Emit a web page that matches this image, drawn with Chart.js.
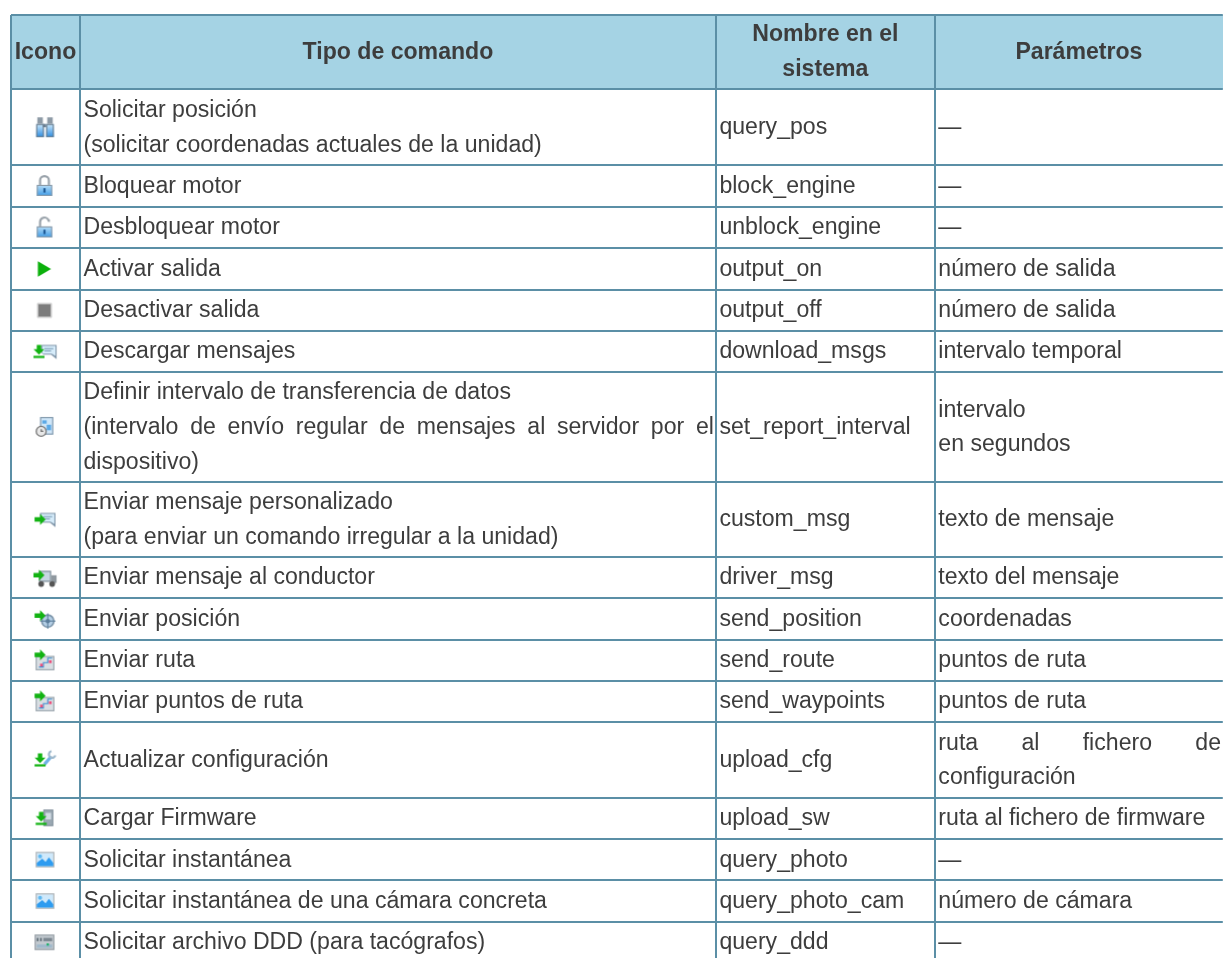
<!DOCTYPE html>
<html lang="es">
<head>
<meta charset="utf-8">
<title>Comandos</title>
<script src="https://cdn.jsdelivr.net/npm/chart.js@4"></script>
<style>html,body{margin:0;padding:0;background:#fff}canvas{display:block;filter:blur(.35px)}</style>
</head>
<body>
<canvas id="c" width="1223" height="958"></canvas>
<script>
const headers = ["Icono", "Tipo de comando", "Nombre en el\nsistema", "Parámetros"];
const commandTypes = [
  "Solicitar posición\n(solicitar coordenadas actuales de la unidad)",
  "Bloquear motor",
  "Desbloquear motor",
  "Activar salida",
  "Desactivar salida",
  "Descargar mensajes",
  "Definir intervalo de transferencia de datos\n(intervalo de envío regular de mensajes al servidor por el\ndispositivo)",
  "Enviar mensaje personalizado\n(para enviar un comando irregular a la unidad)",
  "Enviar mensaje al conductor",
  "Enviar posición",
  "Enviar ruta",
  "Enviar puntos de ruta",
  "Actualizar configuración",
  "Cargar Firmware",
  "Solicitar instantánea",
  "Solicitar instantánea de una cámara concreta",
  "Solicitar archivo DDD (para tacógrafos)"
];
const systemNames = ["query_pos","block_engine","unblock_engine","output_on","output_off","download_msgs","set_report_interval","custom_msg","driver_msg","send_position","send_route","send_waypoints","upload_cfg","upload_sw","query_photo","query_photo_cam","query_ddd"];
const parameters = ["—","—","—","número de salida","número de salida","intervalo temporal","intervalo\nen segundos","texto de mensaje","texto del mensaje","coordenadas","puntos de ruta","puntos de ruta","ruta al fichero de\nconfiguración","ruta al fichero de firmware","—","número de cámara","—"];
const justifiedLines = ["(intervalo de envío regular de mensajes al servidor por el","ruta al fichero de"];
const iconNames = ["binoculars","lock","unlock","play","stop","downloadMsg","clockDoc","sendMsg","truck","target","route","route","wrench","firmware","photo","photo","ddd"];
const columnEdges = [0, 69, 705, 924];
const rowEdges = [0, 74.5, 150, 192, 233, 275, 316, 357, 467, 542, 583, 625, 666, 707, 783, 824, 865.5, 907, 948];

const LINE = "#5b8fa6", HEAD = "#a5d3e4", TEXT = "#3d3d3d";
const FONT_SIZE = 23.1, LINE_H = 34.6;

function icon(draw) {
  const s = 30, c = document.createElement("canvas");
  c.width = c.height = s;
  const g = c.getContext("2d");
  g.translate(s / 2 - 1, s / 2);
  g.scale(1.1, 1.1);
  draw(g);
  return c;
}
function rr(g, x, y, w, h, f, st) { g.fillStyle = f; g.fillRect(x, y, w, h); if (st) { g.strokeStyle = st; g.lineWidth = 1; g.strokeRect(x + .5, y + .5, w - 1, h - 1); } }
function grad(g, x0, y0, x1, y1, a, b) { const l = g.createLinearGradient(x0, y0, x1, y1); l.addColorStop(0, a); l.addColorStop(1, b); return l; }
function poly(g, pts, f) { g.fillStyle = f; g.beginPath(); pts.forEach((p, i) => i ? g.lineTo(p[0], p[1]) : g.moveTo(p[0], p[1])); g.closePath(); g.fill(); }
const GREEN = "#12b312";
function downArrow(g, x, y) {
  poly(g, [[x-2,y-5],[x+2,y-5],[x+2,y-1],[x+5,y-1],[x,y+4],[x-5,y-1],[x-2,y-1]], GREEN);
  g.fillStyle = GREEN; g.fillRect(x-5, y+5, 10, 2);
}
function rightArrow(g, x, y) {
  poly(g, [[x-6,y-2],[x-1,y-2],[x-1,y-5],[x+4,y],[x-1,y+5],[x-1,y+2],[x-6,y+2]], GREEN);
}
function bubble(g, x, y) {
  poly(g, [[x-6,y-5],[x+8,y-5],[x+8,y+2],[x+8,y+8],[x+3,y+4],[x-4,y+4],[x-6,y+2]], "#7f95a8");
  poly(g, [[x-5,y-4],[x+7,y-4],[x+7,y+5],[x+3.5,y+3],[x-5,y+3]], "#d6ecfa");
  g.fillStyle = "#7fa0b8"; g.fillRect(x-3, y-2, 8, 1); g.fillRect(x-3, y, 6, 1);
}
const iconPainters = {
  binoculars(g) {
    [-4.5, 4.5].forEach(x => {
      rr(g, x-3, -3, 7, 12, grad(g,0,-3,0,9,"#cfeafc","#2a8be0"), "#6a7f92");
      rr(g, x-2, -9, 5, 6, "#8d9aa6");
    });
    rr(g, -1.5, -3, 3, 3, "#6a7f92");
  },
  lock(g) {
    g.strokeStyle = "#9aa3ab"; g.lineWidth = 2; g.beginPath(); g.arc(0,-5,4,Math.PI,0); g.lineTo(4,0); g.moveTo(-4,-5); g.lineTo(-4,0); g.stroke();
    rr(g, -7, -1, 14, 10, grad(g,0,-1,0,9,"#b9def8","#3d9be6"), "#8c9ba8");
    rr(g, -1, 2, 2, 4, "#1d5a96");
  },
  unlock(g) {
    g.strokeStyle = "#9aa3ab"; g.lineWidth = 2; g.beginPath(); g.moveTo(5,-6); g.arc(0,-5,4,-0.3,Math.PI,true); g.lineTo(-4,0); g.stroke();
    rr(g, -7, -1, 14, 10, grad(g,0,-1,0,9,"#b9def8","#3d9be6"), "#8c9ba8");
    rr(g, -1, 2, 2, 4, "#1d5a96");
  },
  play(g) { poly(g, [[-6,-7],[6,0],[-6,7]], "#0cb00c"); },
  stop(g) { rr(g, -6.5, -6.5, 13, 13, "#7c7c7c", "#c8c8c8"); },
  downloadMsg(g) { bubble(g, 3, -1); downArrow(g, -5, -1); },
  clockDoc(g) {
    rr(g, -4, -9, 12, 16, "#cfe6f8", "#7f95a8");
    rr(g, -2, -6, 4, 3, "#5aa8e6"); rr(g, 2, -2, 4, 5, "#5aa8e6");
    g.fillStyle = "#e8e8e8"; g.strokeStyle = "#777"; g.lineWidth = 1.2;
    g.beginPath(); g.arc(-3, 4, 4.5, 0, 7); g.fill(); g.stroke();
    g.beginPath(); g.moveTo(-3,2); g.lineTo(-3,4); g.lineTo(-1,4); g.stroke();
  },
  sendMsg(g) { bubble(g, 2, -1); rightArrow(g, -3, 0); },
  truck(g) {
    rr(g, -5, -6, 11, 10, "#c6d6e2", "#7f8c96");
    rr(g, 6, -2, 5, 7, "#8f989f");
    g.fillStyle = "#555"; [-3, 7].forEach(x => { g.beginPath(); g.arc(x, 6, 2.6, 0, 7); g.fill(); });
    rightArrow(g, -4, -2);
  },
  target(g) {
    g.strokeStyle = "#7d96ab"; g.lineWidth = 1.5; g.fillStyle = "#b4cfe6";
    g.beginPath(); g.arc(3, 2, 5.5, 0, 7); g.fill(); g.stroke();
    g.fillStyle = "#5c7f9c"; g.beginPath(); g.arc(3, 2, 2, 0, 7); g.fill();
    g.fillRect(2.5,-5,1,14); g.fillRect(-4,1.5,14,1);
    rightArrow(g, -3, -3);
  },
  route(g) {
    rr(g, -8, -4, 17, 13, "#d9dfe4", "#9aa4ac");
    g.strokeStyle = "#3f8fd0"; g.lineWidth = 1; g.beginPath(); g.moveTo(-5,6); g.lineTo(-1,6); g.lineTo(-1,2); g.lineTo(3,2); g.lineTo(3,-2); g.lineTo(7,-2); g.stroke();
    g.fillStyle = "#ee4d7a"; g.fillRect(-4,3,2.5,2.5); g.fillRect(4,0,2.5,2.5);
    rightArrow(g, -3, -5);
  },
  wrench(g) {
    g.strokeStyle = "#6fb0e6"; g.lineWidth = 3; g.beginPath(); g.moveTo(0,4); g.lineTo(6,-3); g.stroke();
    g.strokeStyle = "#9db8cc"; g.lineWidth = 2; g.beginPath(); g.arc(7,-5,3,0.3,4.5); g.stroke();
    downArrow(g, -4, -1);
  },
  firmware(g) {
    rr(g, -1, -8, 9, 15, "#9aa8b3", "#8a97a1");
    rr(g, 1, -5, 5, 6, "#d3dde5");
    downArrow(g, -3, -1);
  },
  photo(g) {
    rr(g, -8, -7, 17, 14, "#cfe9fb", "#b3b3b3");
    poly(g, [[-7,6],[-7,3],[-2,-1],[1,2],[4,-2],[8,3],[8,6]], "#2e9cf0");
    g.fillStyle = "#5db8f2"; g.beginPath(); g.arc(-4,-3,1.8,0,7); g.fill();
  },
  ddd(g) {
    rr(g, -9, -7, 18, 14, "#c2c9cf", "#9aa2a8");
    rr(g, -1, -4, 8, 3, "#7c8790");
    rr(g, -7, 2, 14, 3, "#9fb9cc");
    g.fillStyle = "#5b6972"; g.fillRect(-7,-4,1.5,3); g.fillRect(-4,-4,1.5,3);
    g.fillStyle = "#0fb060"; g.fillRect(2,1,2,2);
  }
};
const iconImages = iconNames.map(n => icon(iconPainters[n]));
const iconColumn = (columnEdges[0] + columnEdges[1]) / 2;
const iconPoints = iconNames.map((_, i) => ({ x: iconColumn, y: (rowEdges[i + 1] + rowEdges[i + 2]) / 2 }));

const tablePlugin = {
  id: "table",
  beforeDraw(chart) {
    const { ctx, scales: { x, y } } = chart;
    ctx.save();
    ctx.fillStyle = "#fff";
    ctx.fillRect(0, 0, chart.width, chart.height);
    ctx.fillStyle = HEAD;
    const y0 = y.getPixelForValue(rowEdges[0]), y1 = y.getPixelForValue(rowEdges[1]);
    ctx.fillRect(x.left, y0, chart.width - x.left, y1 - y0);
    ctx.restore();
  },
  afterDatasetsDraw(chart) {
    const { ctx, scales: { x, y } } = chart;
    const colLeft = c => x.getPixelForValue(columnEdges[c]);
    const colRight = c => c + 1 < columnEdges.length ? x.getPixelForValue(columnEdges[c + 1]) : chart.width;
    const lines = (text, c, top, bottom, opts) => {
      const parts = text.split("\n");
      const cy = (top + bottom) / 2 - (parts.length - 1) * LINE_H / 2 + opts.dy;
      parts.forEach((line, k) => {
        const by = cy + k * LINE_H;
        const L = colLeft(c) + 3.5, R = colRight(c) - 2;
        if (opts.center) {
          ctx.textAlign = "center";
          ctx.fillText(line, (colLeft(c) + colRight(c)) / 2, by);
        } else if (justifiedLines.includes(line)) {
          ctx.textAlign = "left";
          const words = line.split(" ");
          const used = words.reduce((s, w) => s + ctx.measureText(w).width, 0);
          const gap = (R - L - used) / (words.length - 1);
          let px = L;
          words.forEach(w => { ctx.fillText(w, px, by); px += ctx.measureText(w).width + gap; });
        } else {
          ctx.textAlign = "left";
          ctx.fillText(line, L, by);
        }
      });
    };
    ctx.save();
    ctx.fillStyle = TEXT;
    ctx.textBaseline = "alphabetic";
    ctx.font = `bold ${FONT_SIZE}px "Liberation Sans", Arial, sans-serif`;
    const hTop = y.getPixelForValue(rowEdges[0]), hBot = y.getPixelForValue(rowEdges[1]);
    headers.forEach((h, c) => lines(h, c, hTop, hBot, { center: true, dy: 6.5 }));
    ctx.font = `${FONT_SIZE}px "Liberation Sans", Arial, sans-serif`;
    commandTypes.forEach((_, i) => {
      const top = y.getPixelForValue(rowEdges[i + 1]), bot = y.getPixelForValue(rowEdges[i + 2]);
      lines(commandTypes[i], 1, top, bot, { dy: 7 });
      lines(systemNames[i], 2, top, bot, { dy: 7 });
      lines(parameters[i], 3, top, bot, { dy: 7 });
    });
    ctx.restore();
  }
};

new Chart(document.getElementById("c"), {
  type: "scatter",
  data: { datasets: [{
    data: iconPoints,
    pointStyle: iconImages,
    pointRadius: 0.2,
    pointHoverRadius: 0.2,
    pointBorderWidth: 0,
    pointHoverBorderWidth: 0,
    borderWidth: 0,
    clip: false
  }] },
  options: {
    responsive: false,
    animation: false,
    events: [],
    layout: { padding: { left: 11, top: 15, right: 0, bottom: 0 } },
    plugins: { legend: { display: false }, tooltip: { enabled: false }, title: { display: false } },
    scales: {
      x: {
        type: "linear", min: 0, max: 1212,
        afterBuildTicks: s => { s.ticks = columnEdges.map(value => ({ value })); },
        grid: { color: LINE, lineWidth: 2, drawTicks: false, tickLength: 0 },
        border: { display: false },
        ticks: { display: false, autoSkip: false }
      },
      y: {
        type: "linear", min: 0, max: 943, reverse: true,
        afterBuildTicks: s => { s.ticks = rowEdges.map(value => ({ value })); },
        grid: { color: LINE, lineWidth: 2, drawTicks: false, tickLength: 0 },
        border: { display: false },
        ticks: { display: false, autoSkip: false }
      }
    }
  },
  plugins: [tablePlugin]
});
</script>
</body>
</html>
